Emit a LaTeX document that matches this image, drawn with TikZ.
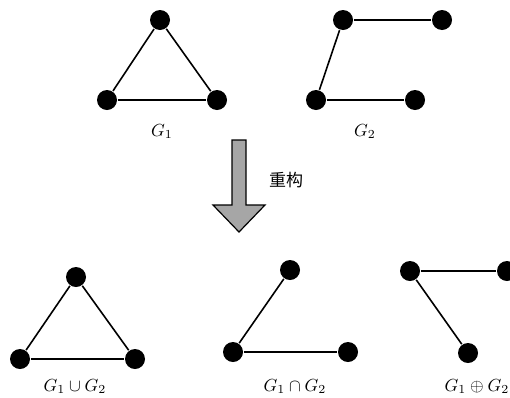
\documentclass[tikz,border=0pt]{standalone}
\usepackage{fontspec}
\newfontfamily\cjk{Noto Sans CJK SC}
\usepackage{amsmath,amssymb}
\usetikzlibrary{positioning}

\begin{document}
\begin{tikzpicture}[x=1pt, y=-1pt, line width=1.6pt,
                    vertex/.style={circle, fill=black, inner sep=0pt, minimum size=20pt},
                    glabel/.style={scale=1.75, inner sep=0pt, anchor=base}]
    \useasboundingbox (0,0) rectangle (510,397);

    % Nodes (G_1 and G_2)
    \node[vertex] (A1) at (160,20) {};
    \node[vertex] (A2) at (107,100) {};
    \node[vertex] (A3) at (217,100) {};
    \node[vertex] (B1) at (343,20) {};
    \node[vertex] (B2) at (442,20) {};
    \node[vertex] (B3) at (316,100) {};
    \node[vertex] (B4) at (415,100) {};

    % Nodes (results)
    \node[vertex] (U1) at (76,277) {};
    \node[vertex] (U2) at (20,359) {};
    \node[vertex] (U3) at (135,359) {};
    \node[vertex] (I1) at (290,270) {};
    \node[vertex] (I2) at (233,352) {};
    \node[vertex] (I3) at (348,352) {};
    \node[vertex] (X1) at (410,271) {};
    \node[vertex] (X2) at (507,271) {};
    \node[vertex] (X3) at (468,353) {};

    % Labels
    \node[glabel] (LA) at (162,136) {$G_1$};
    \node[glabel] (LB) at (365,136) {$G_2$};
    \node[glabel] (LU) at (75,391) {$G_1\cup G_2$};
    \node[glabel] (LI) at (295,391) {$G_1\cap G_2$};
    \node[glabel] (LX) at (477,391) {$G_1\oplus G_2$};

    % Arrow
    \draw[line width=1.2pt, fill=black!35, line join=miter]
        (232,140) -- (246,140) -- (246,205) -- (265,205) -- (239,232)
        -- (213,205) -- (232,205) -- cycle;
    \node[font=\cjk\fontsize{17}{20}\selectfont] (R) at (286,180) {重构};

    % Edges
    \path
    (A1) edge (A2)
         edge (A3)
    (A2) edge (A3)

    (B1) edge (B2)
         edge (B3)
    (B3) edge (B4)

    (U1) edge (U2)
         edge (U3)
    (U2) edge (U3)

    (I1) edge (I2)
    (I2) edge (I3)

    (X1) edge (X2)
         edge (X3);

\end{tikzpicture}
\end{document}
